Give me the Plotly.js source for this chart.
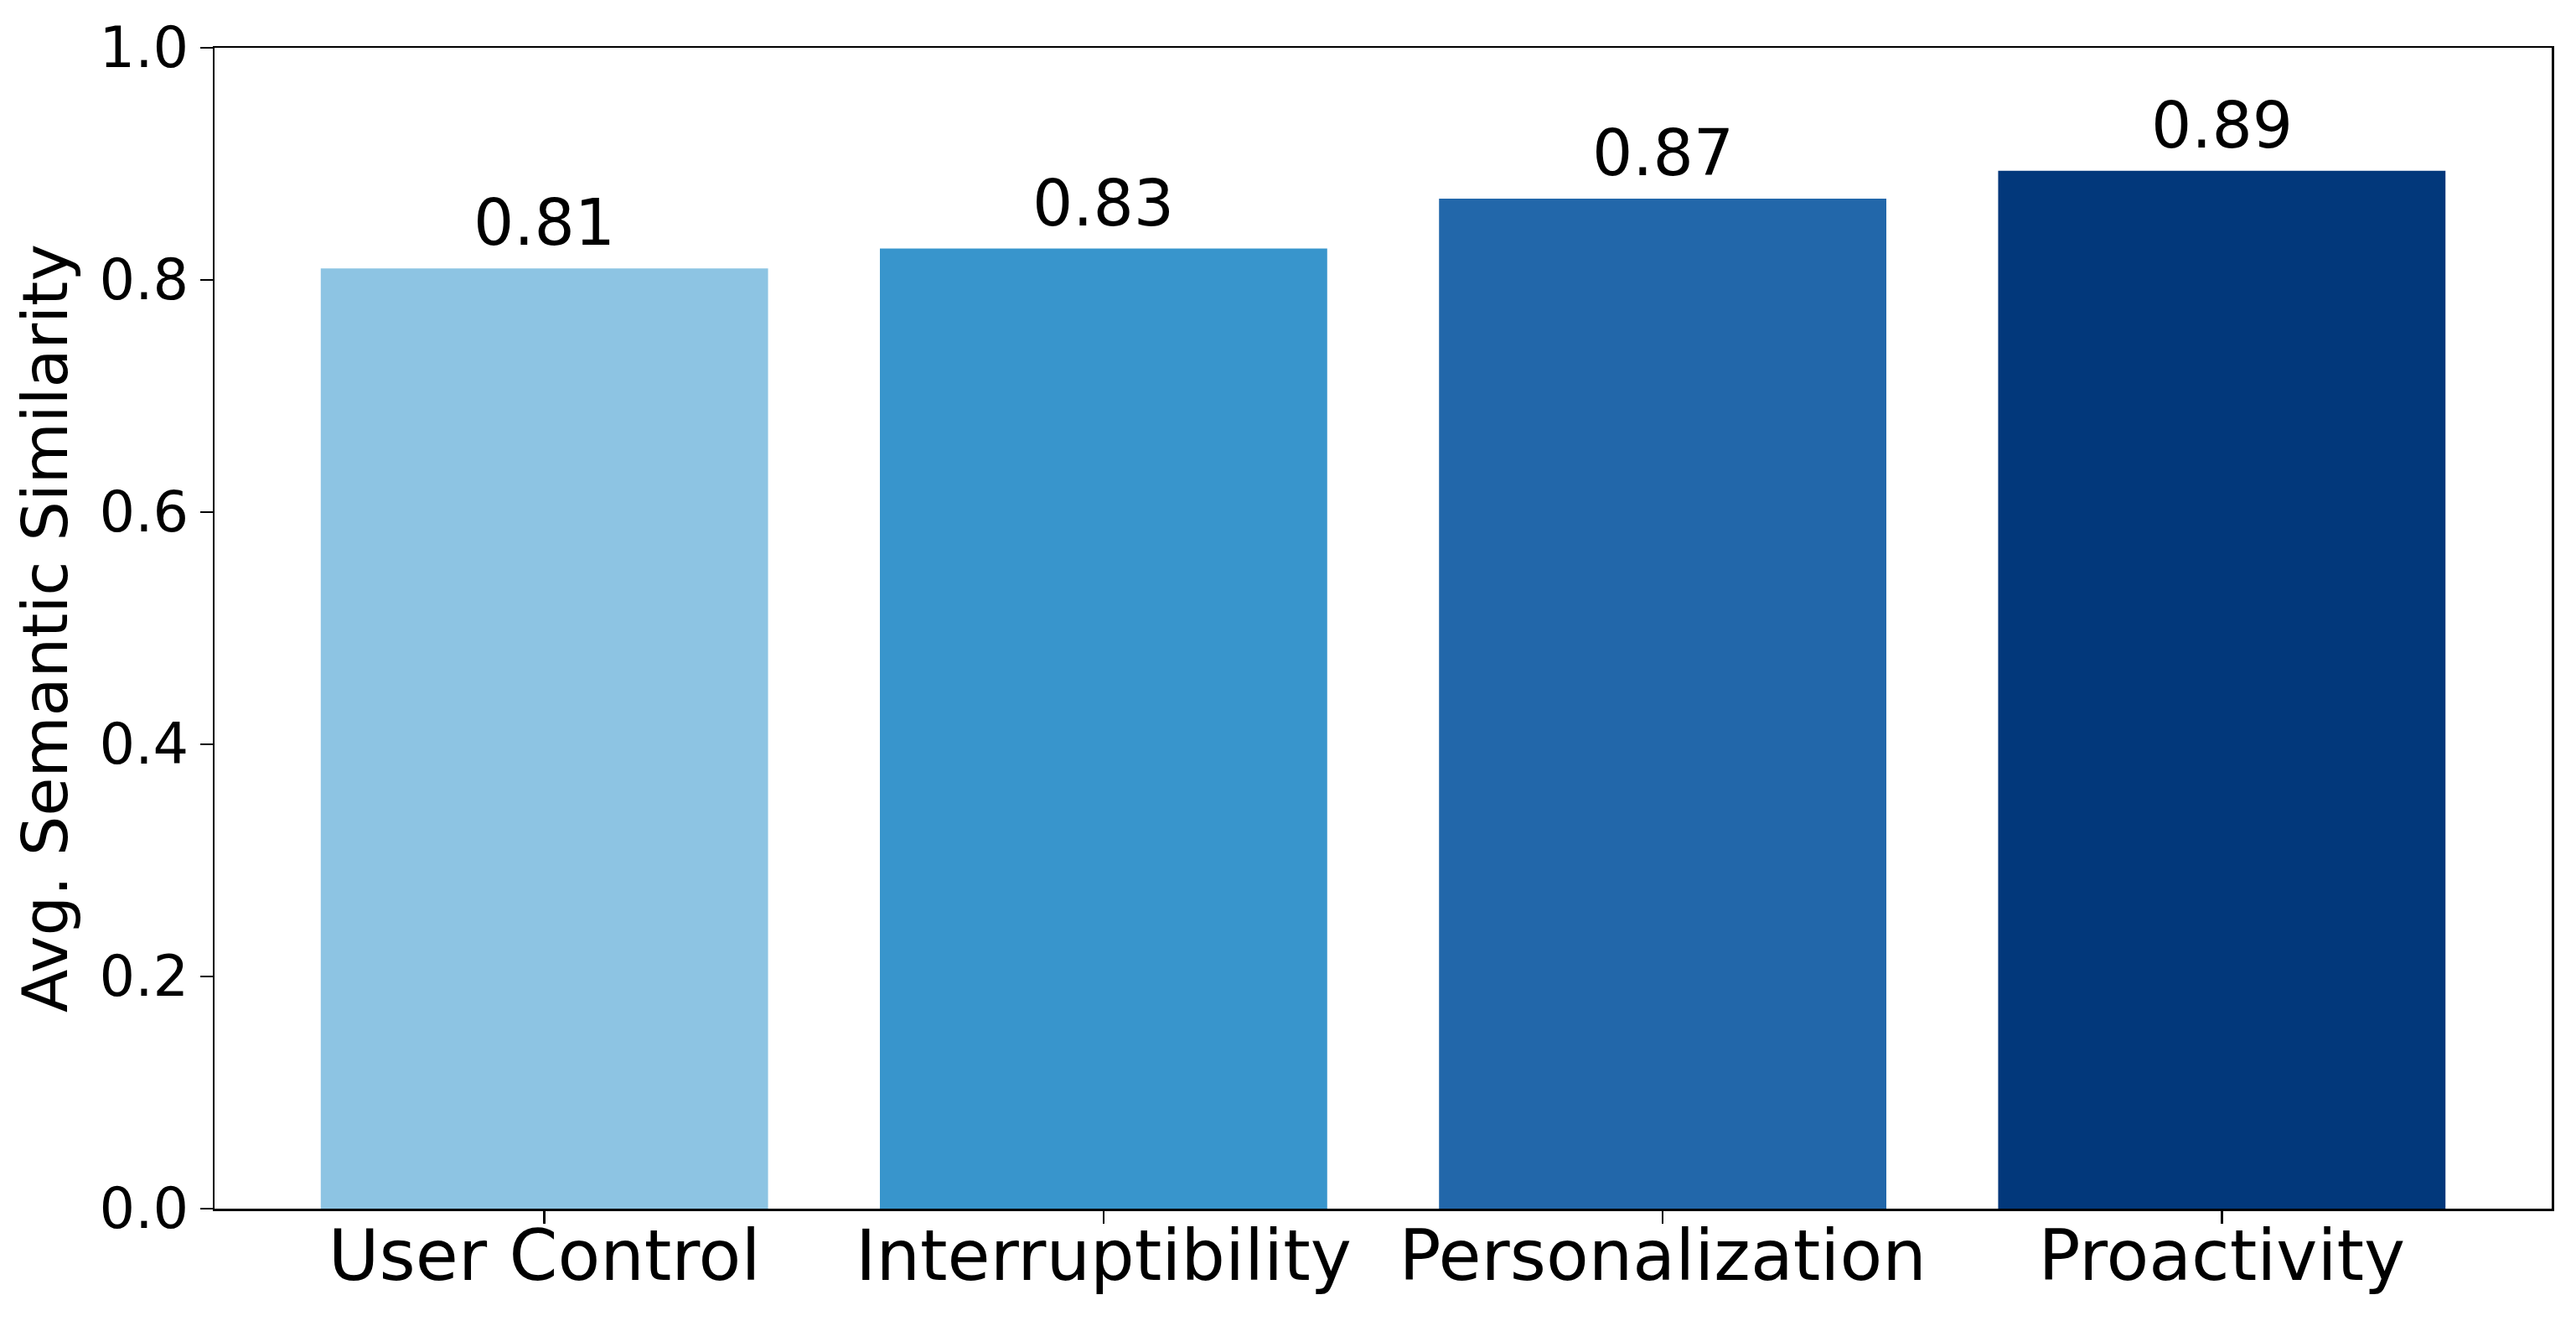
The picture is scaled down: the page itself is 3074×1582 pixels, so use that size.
<!DOCTYPE html>
<html>
<head>
<meta charset="utf-8">
<script src="https://cdn.plot.ly/plotly-3.0.1.min.js"></script>
<style>html,body{margin:0;padding:0;background:#fff;}</style>
</head>
<body>
<div id="chart" style="width:3074px;height:1582px;"></div>
<script>
const categories = ["User Control", "Interruptibility", "Personalization", "Proactivity"];
const values = [0.810, 0.827, 0.870, 0.894];
const barColors = ["#8dc4e3", "#3895cc", "#2267aa", "#02387b"];
const yTicks = [0.0, 0.2, 0.4, 0.6, 0.8, 1.0];

const FONT = "DejaVu Sans";

const trace = {
  type: "bar",
  x: categories,
  y: values,
  marker: {color: barColors, line: {width: 0}},
  hoverinfo: "none"
};

const annotations = categories.map((c, i) => ({
  x: c,
  y: values[i],
  xref: "x",
  yref: "y",
  text: values[i].toFixed(2),
  showarrow: false,
  yanchor: "bottom",
  yshift: 8,
  font: {family: FONT, size: 76, color: "#000"}
}));

const layout = {
  width: 3074,
  height: 1582,
  margin: {l: 256, r: 29, t: 57, b: 140, pad: 0},
  paper_bgcolor: "#fff",
  plot_bgcolor: "#fff",
  showlegend: false,
  bargap: 0.2,
  font: {family: FONT, color: "#000"},
  xaxis: {
    type: "category",
    range: [-0.59, 3.59],
    showline: true,
    mirror: true,
    linecolor: "#000",
    linewidth: 2.5,
    ticks: "outside",
    ticklen: 15,
    tickwidth: 2.5,
    tickcolor: "#000",
    ticklabelstandoff: -32,
    showgrid: false,
    zeroline: false,
    tickfont: {family: FONT, size: 83, color: "#000"},
    automargin: false
  },
  yaxis: {
    range: [0, 1],
    tickvals: yTicks,
    ticktext: yTicks.map(v => v.toFixed(1)),
    showline: true,
    mirror: true,
    linecolor: "#000",
    linewidth: 2.5,
    ticks: "outside",
    ticklen: 15,
    tickwidth: 2.5,
    tickcolor: "#000",
    showgrid: false,
    zeroline: false,
    tickfont: {family: FONT, size: 67, color: "#000"},
    title: {text: "Avg. Semantic Similarity", font: {family: FONT, size: 75, color: "#000"}, standoff: 14},
    automargin: false
  },
  annotations: annotations
};

Plotly.newPlot("chart", [trace], layout, {staticPlot: true, displayModeBar: false});
</script>
</body>
</html>
